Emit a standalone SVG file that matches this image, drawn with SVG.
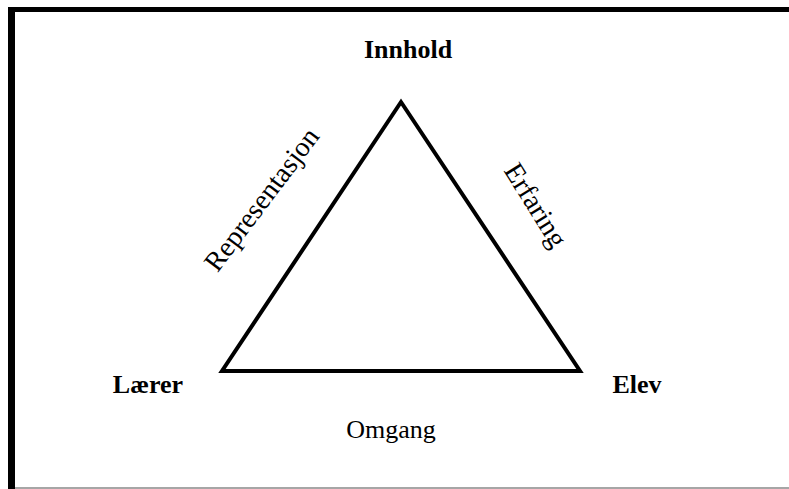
<svg xmlns="http://www.w3.org/2000/svg" width="789" height="489" viewBox="0 0 789 489">
<style>
.lbl{font-family:"Liberation Serif","Times New Roman",serif;font-size:26px;fill:#000}
.b{font-weight:bold}
.rot{font-size:28px}
.edge{fill:none;stroke:#000;stroke-width:4;stroke-linejoin:miter}
</style>
<rect x="0" y="0" width="789" height="489" fill="#fff"/>
<g id="frame">
<rect x="8" y="7" width="781" height="5" fill="#000"/>
<rect x="8" y="7" width="7" height="482" fill="#000"/>
<line x1="15" y1="488" x2="789" y2="488" stroke="#888" stroke-width="1.5"/>
</g>
<g id="connectors">
<path class="edge" d="M401,102 L580,371 L222,371 Z"/>
</g>
<g id="innhold"><text class="lbl b" x="408" y="58" text-anchor="middle">Innhold</text></g>
<g id="laerer"><text class="lbl b" x="148" y="393" text-anchor="middle">Lærer</text></g>
<g id="elev"><text class="lbl b" x="637" y="393" text-anchor="middle">Elev</text></g>
<g id="representasjon"><text class="lbl rot" x="269" y="205" text-anchor="middle" transform="rotate(-53 269 205)">Representasjon</text></g>
<g id="erfaring"><text class="lbl rot" x="528" y="210" text-anchor="middle" transform="rotate(58 528 210)">Erfaring</text></g>
<g id="omgang"><text class="lbl" x="391" y="438" text-anchor="middle">Omgang</text></g>
</svg>
